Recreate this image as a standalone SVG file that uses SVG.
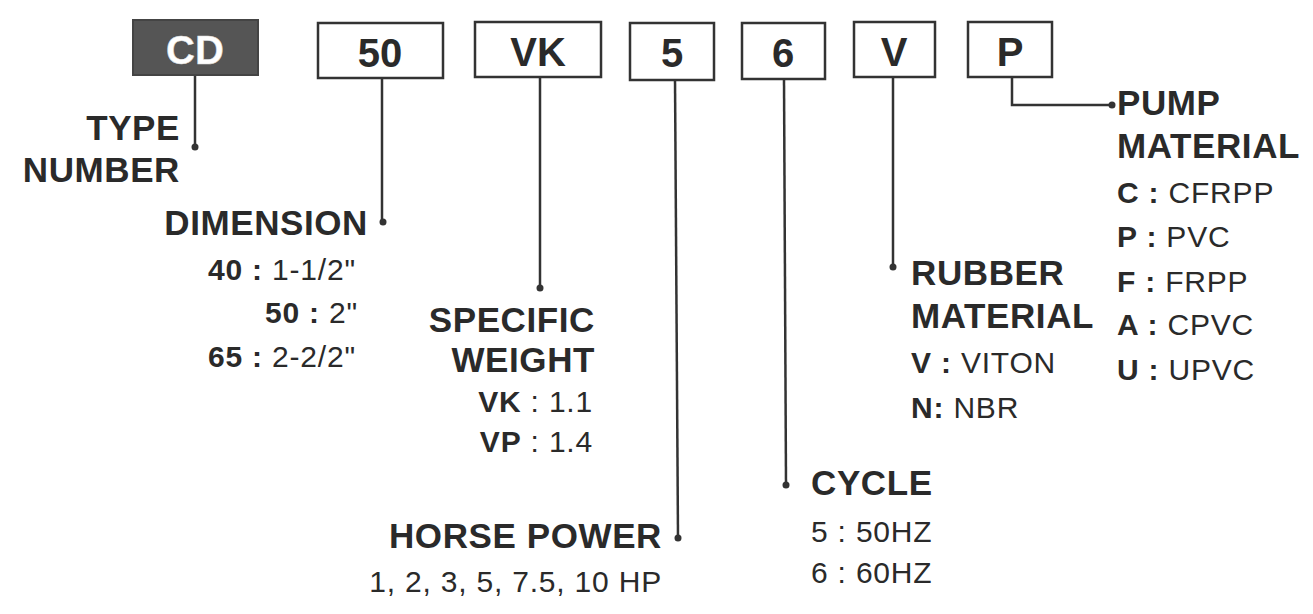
<svg xmlns="http://www.w3.org/2000/svg" width="1313" height="614" viewBox="0 0 1313 614">
<style>
.box{fill:#fff;stroke:#333;stroke-width:2.5}
.dark{fill:#555;stroke:#444;stroke-width:2}
.bt{font-family:"Liberation Sans",Arial,sans-serif;font-weight:bold;font-size:40px;fill:#2a2a2a;text-anchor:middle}
.h{font-family:"Liberation Sans",Arial,sans-serif;font-weight:bold;font-size:35px;letter-spacing:0.6px;fill:#2a2a2a}
.s{font-family:"Liberation Sans",Arial,sans-serif;font-size:30px;letter-spacing:0.8px;fill:#2a2a2a}
.b{font-weight:bold}
.ln{stroke:#333;stroke-width:2.5;fill:none}
.dot{fill:#333}
.e{text-anchor:end}
</style>
<rect width="1313" height="614" fill="#fff"/>
<g id="connectors">
<path class="ln" d="M195 75V147"/><circle class="dot" cx="195" cy="147" r="3.5"/>
<path class="ln" d="M382 78V222"/><circle class="dot" cx="383" cy="222" r="3.5"/>
<path class="ln" d="M540 77V288"/><circle class="dot" cx="540" cy="288" r="3.5"/>
<path class="ln" d="M675 79L678 538"/><circle class="dot" cx="678" cy="538" r="3.5"/>
<path class="ln" d="M784 79L786 485"/><circle class="dot" cx="786" cy="485" r="3.5"/>
<path class="ln" d="M893 77V267"/><circle class="dot" cx="893" cy="267" r="3.5"/>
<path class="ln" d="M1012 77V105H1112"/><circle class="dot" cx="1112" cy="105" r="3.5"/>
</g>
<g id="box-cd"><rect class="dark" x="133" y="20" width="125" height="55"/><text class="bt" x="195" y="64" style="fill:#fff;stroke:#ddd;stroke-width:0.5">CD</text></g>
<g id="box-50"><rect class="box" x="318" y="23" width="125" height="55"/><text class="bt" x="380" y="67">50</text></g>
<g id="box-vk"><rect class="box" x="475" y="22" width="126" height="55"/><text class="bt" x="538" y="66">VK</text></g>
<g id="box-5"><rect class="box" x="630" y="23" width="84" height="57"/><text class="bt" x="672" y="67">5</text></g>
<g id="box-6"><rect class="box" x="742" y="23" width="83" height="56"/><text class="bt" x="783" y="67">6</text></g>
<g id="box-v"><rect class="box" x="854" y="22" width="81" height="55"/><text class="bt" x="894" y="66">V</text></g>
<g id="box-p"><rect class="box" x="968" y="22" width="84" height="55"/><text class="bt" x="1010" y="66">P</text></g>
<g id="type-number">
<text class="h e" x="180" y="140">TYPE</text>
<text class="h e" x="180" y="182">NUMBER</text>
</g>
<g id="dimension">
<text class="h e" x="368" y="235">DIMENSION</text>
<text class="s" x="208" y="280"><tspan class="b">40 :</tspan> 1-1/2"</text>
<text class="s" x="265" y="323"><tspan class="b">50 :</tspan> 2"</text>
<text class="s" x="208" y="367"><tspan class="b">65 :</tspan> 2-2/2"</text>
</g>
<g id="specific-weight">
<text class="h e" x="595" y="332">SPECIFIC</text>
<text class="h e" x="595" y="372">WEIGHT</text>
<text class="s e" x="593" y="412"><tspan class="b">VK</tspan> : 1.1</text>
<text class="s e" x="593" y="452"><tspan class="b">VP</tspan> : 1.4</text>
</g>
<g id="horse-power">
<text class="h e" x="662" y="548">HORSE POWER</text>
<text class="s e" x="662" y="592">1, 2, 3, 5, 7.5, 10 HP</text>
</g>
<g id="cycle">
<text class="h" x="811" y="495">CYCLE</text>
<text class="s" x="811" y="542">5 : 50HZ</text>
<text class="s" x="811" y="583">6 : 60HZ</text>
</g>
<g id="rubber-material">
<text class="h" x="911" y="285">RUBBER</text>
<text class="h" x="911" y="328">MATERIAL</text>
<text class="s" x="911" y="373"><tspan class="b">V :</tspan> VITON</text>
<text class="s" x="911" y="418"><tspan class="b">N:</tspan> NBR</text>
</g>
<g id="pump-material">
<text class="h" x="1117" y="115">PUMP</text>
<text class="h" x="1117" y="158">MATERIAL</text>
<text class="s" x="1117" y="203"><tspan class="b">C :</tspan> CFRPP</text>
<text class="s" x="1117" y="247"><tspan class="b">P :</tspan> PVC</text>
<text class="s" x="1117" y="292"><tspan class="b">F :</tspan> FRPP</text>
<text class="s" x="1117" y="335"><tspan class="b">A :</tspan> CPVC</text>
<text class="s" x="1117" y="380"><tspan class="b">U :</tspan> UPVC</text>
</g>
</svg>
